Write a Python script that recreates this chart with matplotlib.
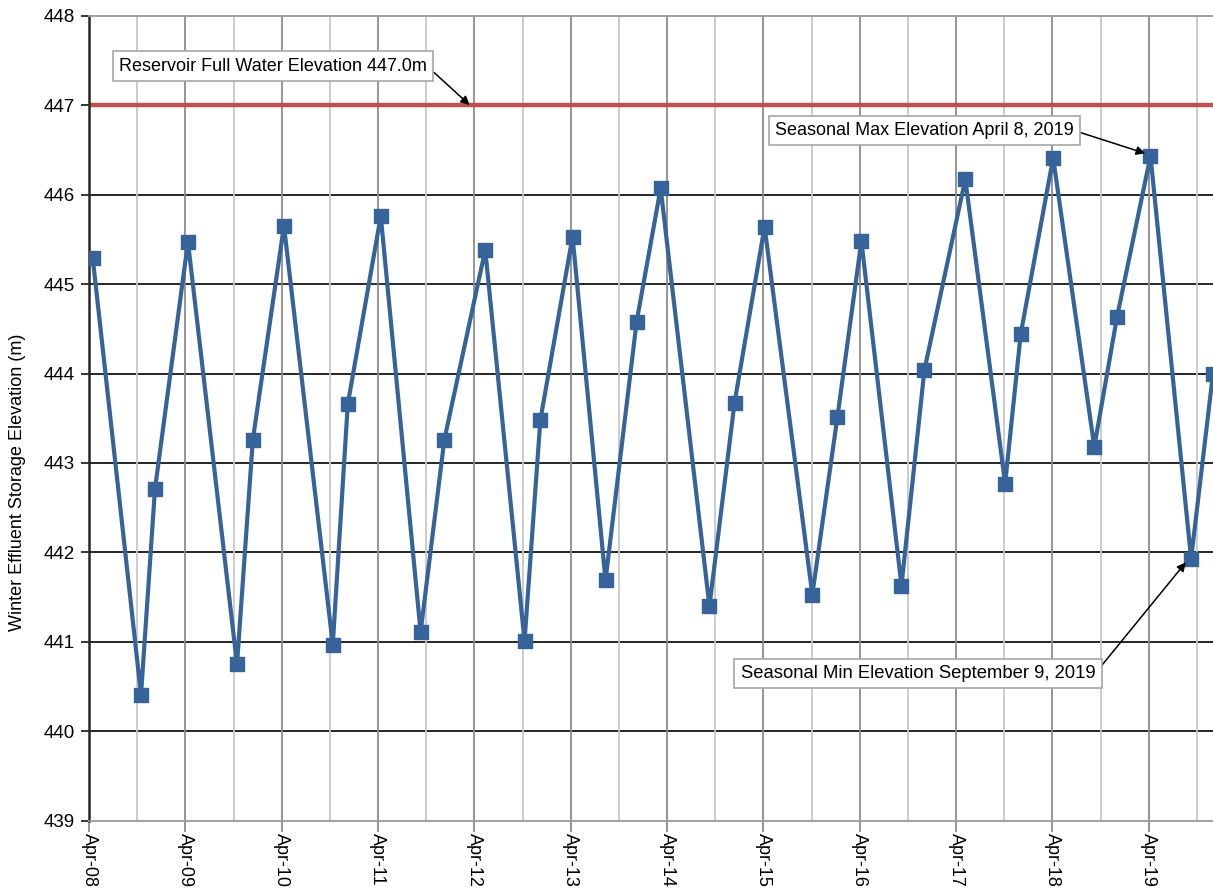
import numpy as np
import pandas as pd
import matplotlib
matplotlib.use("Agg")
import matplotlib.pyplot as plt
import matplotlib.dates as mdates

# Data
tanggal = [
    "2008-04-15", "2008-10-15", "2008-12-07",
    "2009-04-11", "2009-10-14", "2009-12-13",
    "2010-04-10", "2010-10-12", "2010-12-08",
    "2011-04-12", "2011-09-10", "2011-12-09",
    "2012-05-12", "2012-10-08", "2012-12-07",
    "2013-04-08", "2013-08-11", "2013-12-07",
    "2014-03-08", "2014-09-09", "2014-12-13",
    "2015-04-06", "2015-10-04", "2016-01-07",
    "2016-04-07", "2016-09-06", "2016-12-02",
    "2017-05-06", "2017-10-04", "2017-12-02",
    "2018-04-04", "2018-09-07", "2018-12-02",
    "2019-04-08", "2019-09-09", "2019-12-01",
]
elevasi = [
    445.29, 440.41, 442.71,
    445.47, 440.75, 443.26,
    445.65, 440.97, 443.66,
    445.76, 441.11, 443.26,
    445.38, 441.01, 443.48,
    445.53, 441.69, 444.58,
    446.07, 441.40, 443.67,
    445.64, 441.53, 443.51,
    445.48, 441.63, 444.04,
    446.17, 442.77, 444.44,
    446.41, 443.18, 444.63,
    446.43, 441.93, 444.00,
]
muka_air_penuh = 447.0
y_ticks = list(range(439, 449))

anotasi_teks = [
    "Reservoir Full Water Elevation 447.0m",
    "Seasonal Max Elevation April 8, 2019",
    "Seasonal Min Elevation September 9, 2019",
]

plt.rcParams['font.family'] = ['Liberation Sans', 'DejaVu Sans']

x = pd.to_datetime(tanggal)

fig = plt.figure(figsize=(12.13, 8.88), dpi=100)
ax = fig.add_axes([0.0734, 0.0755, 0.9266, 0.907])

ax.set_xlim(pd.Timestamp("2008-04-01"), pd.Timestamp("2019-12-01"))
ax.set_ylim(439, 448)

# garis grid
ax.xaxis.set_major_locator(mdates.MonthLocator(bymonth=4))
ax.xaxis.set_minor_locator(mdates.MonthLocator(bymonth=10))
ax.xaxis.set_major_formatter(mdates.DateFormatter("%b-%y"))
ax.grid(True, which='major', axis='x', color='#8c8c8c', linewidth=1.3, zorder=0)
ax.grid(True, which='minor', axis='x', color='#c8c8c8', linewidth=1.3, zorder=0)
for yv in y_ticks[1:-1]:
    ax.axhline(yv, color='#262626', linewidth=1.4, zorder=1)

# garis muka air penuh
ax.axhline(muka_air_penuh, color='#c0504d', linewidth=3.2, zorder=2)

# seri data
ax.plot(x, elevasi, color='#36639a', linewidth=3.0, marker='s', markersize=10.5,
        zorder=3)

ax.set_yticks(y_ticks)
ax.tick_params(axis='y', which='major', length=6, width=1.3, color='#262626',
               labelsize=13.5, pad=4)
ax.tick_params(axis='x', which='major', length=8, width=1.3, color='#8c8c8c',
               labelsize=13, pad=0.5, labelrotation=270)
ax.tick_params(axis='x', which='minor', length=0)
for lbl in ax.get_xticklabels():
    lbl.set_verticalalignment('top')
    lbl.set_horizontalalignment('center')

ax.spines['left'].set_color('#262626')
ax.spines['left'].set_linewidth(1.8)
ax.spines['bottom'].set_color('#9a9a9a')
ax.spines['bottom'].set_linewidth(1.3)
ax.spines['top'].set_color('#9a9a9a')
ax.spines['top'].set_linewidth(1.3)
ax.spines['right'].set_visible(False)

ax.set_ylabel("Winter Effluent Storage Elevation (m)", fontsize=13,
              va='center')
ax.yaxis.set_label_coords(-0.064, 0.421)

# anotasi
box = dict(boxstyle='square,pad=0.35', facecolor='white', edgecolor='#a6a6a6',
           linewidth=1.2)
panah = dict(arrowstyle='-|>', color='black', linewidth=1.1,
             mutation_scale=13, shrinkA=0, shrinkB=0, relpos=(1.0, 0.5))

ax.annotate(anotasi_teks[0], xy=(pd.Timestamp("2012-03-14"), muka_air_penuh),
            xytext=(pd.Timestamp("2008-07-24"), 447.436), fontsize=13,
            bbox=box, arrowprops=panah, va='center', ha='left', zorder=5)
ax.annotate(anotasi_teks[1], xy=(pd.Timestamp("2019-03-19"), 446.46),
            xytext=(pd.Timestamp("2015-05-17"), 446.715), fontsize=13,
            bbox=box, arrowprops=panah, va='center', ha='left', zorder=5)
ax.annotate(anotasi_teks[2], xy=(pd.Timestamp("2019-08-20"), 441.89),
            xytext=(pd.Timestamp("2015-01-05"), 440.648), fontsize=13.3,
            bbox=box, arrowprops=panah, va='center', ha='left', zorder=5)

fig.savefig("out.png", dpi=100)
